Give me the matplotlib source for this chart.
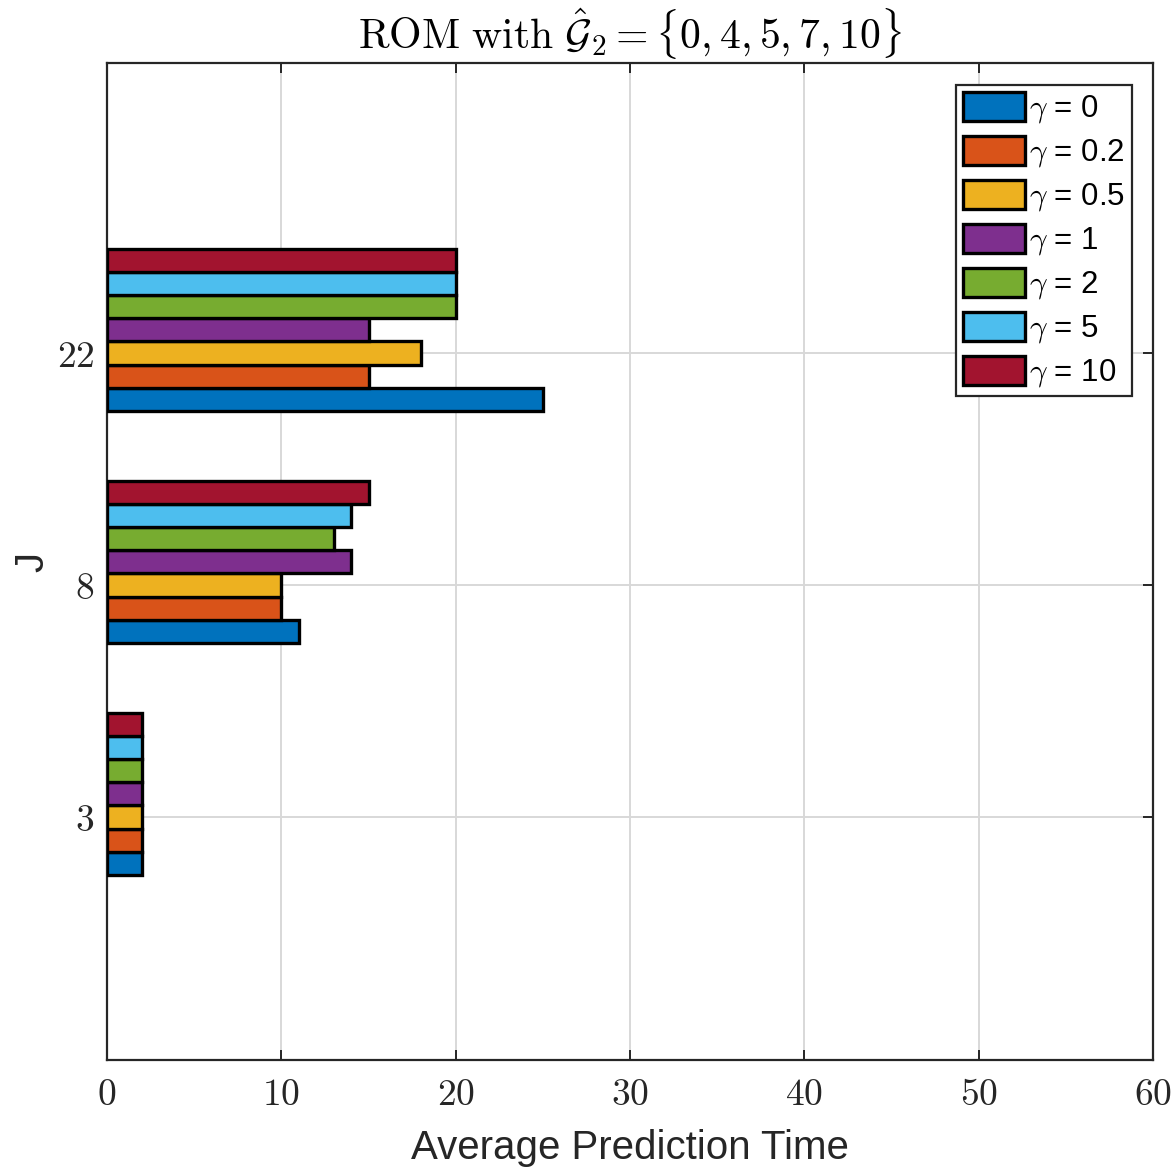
import numpy as np
import matplotlib
matplotlib.use("Agg")
import matplotlib.pyplot as plt

# data
j_labels = ['3', '8', '22']
gamma_labels = ['0', '0.2', '0.5', '1', '2', '5', '10']
pred_time = [
    [2, 11, 25],    # gamma = 0
    [2, 10, 15],    # gamma = 0.2
    [2, 10, 18],    # gamma = 0.5
    [2, 14, 15],    # gamma = 1
    [2, 13, 20],    # gamma = 2
    [2, 14, 20],    # gamma = 5
    [2, 15, 20],    # gamma = 10
]
x_ticks = [0, 10, 20, 30, 40, 50, 60]

colors = ['#0072BD', '#D95319', '#EDB120', '#7E2F8E',
          '#77AC30', '#4DBEEE', '#A2142F']

plt.rcParams['font.family'] = ['Liberation Sans', 'DejaVu Sans']
plt.rcParams['mathtext.fontset'] = 'cm'

W = H = 1172
fig = plt.figure(figsize=(W / 100, H / 100), dpi=100)
ax = fig.add_axes([107 / W, (H - 1060) / H, 1046 / W, 997 / H])

pos = np.arange(1, len(j_labels) + 1)
bar_h = 0.1
for i, g in enumerate(gamma_labels):
    offset = (i - 2) * bar_h
    ax.barh(pos + offset, pred_time[i], height=bar_h, color=colors[i],
            edgecolor='black', linewidth=2.4, label=r'$\gamma$ = ' + g,
            zorder=3)

ax.set_xlim(0, 60)
ax.set_ylim(-0.047, 4.25)
ax.set_xticks(x_ticks)
ax.set_xticklabels(['$%d$' % t for t in x_ticks])
ax.set_yticks(pos)
ax.set_yticklabels(['$%s$' % s for s in j_labels])

ax.tick_params(axis='both', which='both', direction='in', length=7,
               width=1.4, color='#262626', labelsize=27, top=True,
               right=True, labelcolor='#262626')
ax.tick_params(axis='x', pad=12)
ax.tick_params(axis='y', pad=9)

for s in ax.spines.values():
    s.set_linewidth(1.6)
    s.set_color('#262626')

ax.grid(True, color='#d8d8d8', linewidth=1.4, zorder=0)
ax.set_axisbelow(True)

ax.set_xlabel('Average Prediction Time', fontsize=29, color='#262626',
              labelpad=12)
ax.set_ylabel('J', fontsize=29, color='#262626', labelpad=4)
ax.set_title(r'$\mathrm{ROM\ with\ }\hat{\mathcal{G}}_2 = \{0, 4, 5, 7, 10\}$',
             fontsize=30, color='black', pad=10)

leg = ax.legend(loc='upper right', bbox_to_anchor=(0.980, 0.978),
                borderaxespad=0, fontsize=22.5, handlelength=2.0,
                handleheight=1.05, labelspacing=0.33, handletextpad=0.12,
                borderpad=0.22, fancybox=False, framealpha=1)
leg.get_frame().set_edgecolor('#262626')
leg.get_frame().set_linewidth(1.6)

fig.savefig('out.png', dpi=100)
